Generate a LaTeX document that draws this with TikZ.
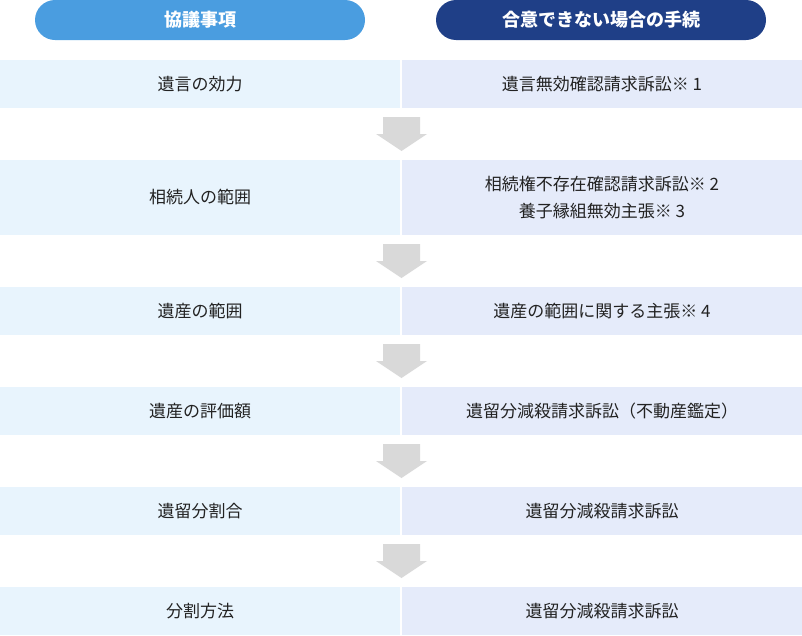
\documentclass[tikz,border=0pt]{standalone}
\usepackage{fontspec}
\newfontfamily\jp{Noto Sans CJK JP}
\definecolor{pillL}{HTML}{4A9DE0}
\definecolor{pillR}{HTML}{1F3F87}
\definecolor{cellL}{HTML}{E8F4FD}
\definecolor{cellR}{HTML}{E5EBFA}
\definecolor{arr}{HTML}{D9D9D9}
\definecolor{txt}{HTML}{222222}
\begin{document}
\begin{tikzpicture}[x=1pt,y=-1pt,
  pill/.style={inner sep=0pt,text=white,font=\jp\bfseries\fontsize{18}{21}\selectfont},
  lbl/.style={text=txt,font=\jp\fontsize{17}{27}\selectfont,align=center,inner sep=0pt}]
\useasboundingbox (0,0) rectangle (802,635);
% headers
\fill[pillL,rounded corners=20pt] (35,0) rectangle (365,40);
\fill[pillR,rounded corners=20pt] (436,0) rectangle (766,40);
\node[pill] (h1) at (200,20) {協議事項};
\node[pill] (h2) at (601,20) {合意できない場合の手続};
% rows
\foreach \t/\b [count=\i] in {60/108,160/235,287/335,387/435,487/535,587/635}{
  \fill[cellL] (0,\t) rectangle (400,\b);
  \fill[cellR] (402,\t) rectangle (802,\b);
  \coordinate (L\i) at (200,{(\t+\b)/2});
  \coordinate (R\i) at (602,{(\t+\b)/2});
}
\node[lbl] (l1) at (L1) {遺言の効力};
\node[lbl] (r1) at (R1) {遺言無効確認請求訴訟※ 1};
\node[lbl] (l2) at (L2) {相続人の範囲};
\node[lbl] (r2) at (R2) {相続権不存在確認請求訴訟※ 2\\養子縁組無効主張※ 3};
\node[lbl] (l3) at (L3) {遺産の範囲};
\node[lbl] (r3) at (R3) {遺産の範囲に関する主張※ 4};
\node[lbl] (l4) at (L4) {遺産の評価額};
\node[lbl] (r4) at (R4) {遺留分減殺請求訴訟（不動産鑑定）};
\node[lbl] (l5) at (L5) {遺留分割合};
\node[lbl] (r5) at (R5) {遺留分減殺請求訴訟};
\node[lbl] (l6) at (L6) {分割方法};
\node[lbl] (r6) at (R6) {遺留分減殺請求訴訟};
% arrows
\foreach \t/\b in {108/160,235/287,335/387,435/487,535/587}{
  \fill[arr] (383,\t+9) -- (420,\t+9) -- (420,\t+26) -- (427,\t+26) -- (401.5,\b-9) -- (376,\t+26) -- (383,\t+26) -- cycle;
}
\end{tikzpicture}
\end{document}
